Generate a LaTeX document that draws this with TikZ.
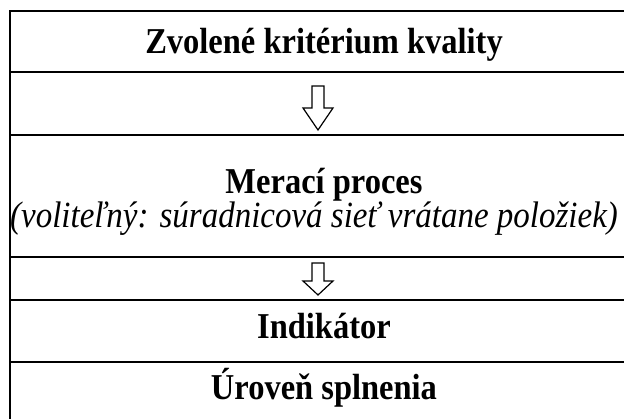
\documentclass[tikz,border=0pt]{standalone}
\usepackage{fontspec}
\setmainfont{Liberation Serif}
% slightly tall letterforms for the row captions
\newcommand\tallcaption[1]{\scalebox{1}[1.12]{#1}}
\begin{document}
\begin{tikzpicture}[x=1pt,y=-1pt,
  rule/.style={line width=2pt},
  label/.style={anchor=base,font=\fontsize{32.5}{38}\selectfont\bfseries,inner sep=0pt},
  note/.style={anchor=base,font=\fontsize{33}{38}\selectfont\itshape,inner sep=0pt},
  hollowarrow/.style={line width=1.2pt,line join=miter}]
\useasboundingbox (0,0) rectangle (624,419);
\clip (0,0) rectangle (624,419);

% table frame: left edge, top edge and row separators
\draw[rule] (10,430) -- (10,11) -- (640,11);
\foreach \y in {72,135,257,300,362}
  \draw[rule] (9,\y) -- (640,\y);

% row texts
\node[label] (crit) at (324,54) {\tallcaption{Zvolené kritérium kvality}};
\node[label] (meas) at (324,194) {\tallcaption{Merací proces}};
\node[note]  (opt)  at (314,228) {\tallcaption{(voliteľný: súradnicová sieť vrátane položiek)}};
\node[label] (ind)  at (324,339) {\tallcaption{Indikátor}};
\node[label] (lvl)  at (324,400) {\tallcaption{Úroveň splnenia}};

% hollow block arrows between the rows
\coordinate (a1s) at (318,86);
\coordinate (a1h) at (318,108);
\coordinate (a1e) at (318,130);
\coordinate (a2s) at (318,263);
\coordinate (a2h) at (318,281);
\coordinate (a2e) at (318,295);
\foreach \a in {a1,a2}
  \draw[hollowarrow] ([xshift=-6pt]\a s) -- ([xshift=6pt]\a s) -- ([xshift=6pt]\a h)
    -- ([xshift=15pt]\a h) -- (\a e) -- ([xshift=-15pt]\a h) -- ([xshift=-6pt]\a h) -- cycle;
\end{tikzpicture}
\end{document}
